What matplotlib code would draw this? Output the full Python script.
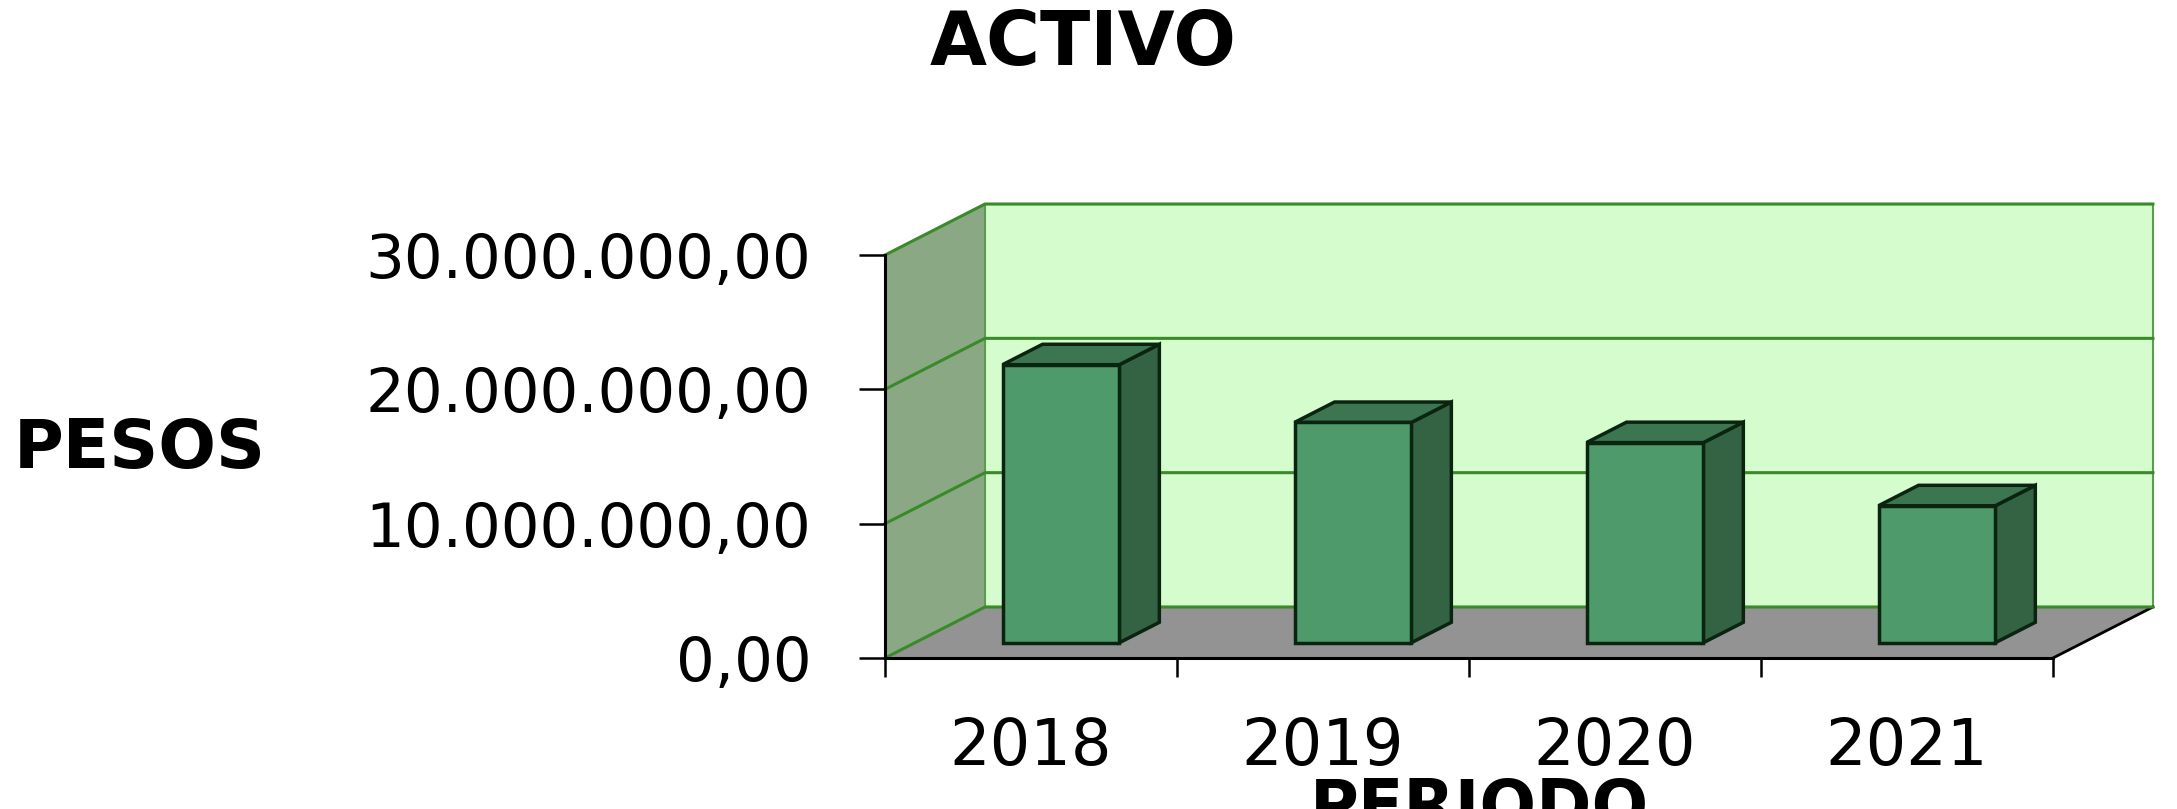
import matplotlib.pyplot as plt
from matplotlib.patches import Polygon
from matplotlib.ticker import FuncFormatter, FixedLocator

plt.rcParams['font.family'] = ['DejaVu Sans']

periodos = ['2018', '2019', '2020', '2021']
activo = [20.7e6, 16.4e6, 14.9e6, 10.2e6]
y_ticks = [0, 10e6, 20e6, 30e6]
y_max = 30e6

# depth of the fake 3d box, in data units
DX = 0.3425
DY = 3.8e6
front, back = 0.30, 0.70

wall_col = '#d4fccc'
side_wall_col = '#8ba885'
floor_col = '#939393'
grid_col = '#3a8a2a'
bar_front = '#4e9a6b'
bar_side = '#336343'
bar_top = '#3c7650'
edge = '#0b2410'


def fmt_pesos(v, pos):
    s = f"{v:,.2f}"
    return s.replace(',', 'X').replace('.', ',').replace('X', '.')


fig = plt.figure(figsize=(21.77, 8.09), dpi=100)
ax = fig.add_axes([0.4065, 0.1866, 0.5365, 0.4981])
ax.set_facecolor('none')
n = len(periodos)
ax.set_xlim(0, n)
ax.set_ylim(0, y_max)

# walls and floor
floor = Polygon([(0, 0), (n, 0), (n + DX, DY), (DX, DY)], closed=True,
                facecolor=floor_col, edgecolor='none', clip_on=False, zorder=0.5)
left_wall = Polygon([(0, 0), (DX, DY), (DX, y_max + DY), (0, y_max)], closed=True,
                    facecolor=side_wall_col, edgecolor='none', clip_on=False, zorder=0.5)
back_wall = Polygon([(DX, DY), (n + DX, DY), (n + DX, y_max + DY), (DX, y_max + DY)],
                    closed=True, facecolor=wall_col, edgecolor='#5c9c50', linewidth=1.5,
                    clip_on=False, zorder=0.5)
for p in (floor, left_wall, back_wall):
    ax.add_patch(p)

# floor edge (right) and grid lines on the walls
ax.plot([n, n + DX], [0, DY], color='black', lw=2, clip_on=False, zorder=0.8)
for v in y_ticks:
    ax.plot([0, DX, n + DX], [v, v + DY, v + DY], color=grid_col, lw=2.2,
            clip_on=False, zorder=0.8)

# bars
d = (back - front)
for i, v in enumerate(activo):
    x0 = i + 0.3 + front * DX
    x1 = i + 0.7 + front * DX
    y0 = front * DY
    y1 = v + front * DY
    fa = Polygon([(x0, y0), (x1, y0), (x1, y1), (x0, y1)], closed=True,
                 facecolor=bar_front, edgecolor=edge, lw=2.5, clip_on=False, zorder=2)
    sd = Polygon([(x1, y0), (x1 + d * DX, y0 + d * DY), (x1 + d * DX, y1 + d * DY), (x1, y1)],
                 closed=True, facecolor=bar_side, edgecolor=edge, lw=2.5,
                 clip_on=False, zorder=2)
    tp = Polygon([(x0, y1), (x1, y1), (x1 + d * DX, y1 + d * DY), (x0 + d * DX, y1 + d * DY)],
                 closed=True, facecolor=bar_top, edgecolor=edge, lw=2.5,
                 clip_on=False, zorder=2)
    for p in (sd, tp, fa):
        ax.add_patch(p)

# axes
for s in ('top', 'right'):
    ax.spines[s].set_visible(False)
for s in ('left', 'bottom'):
    ax.spines[s].set_linewidth(2.2)
    ax.spines[s].set_color('black')
    ax.spines[s].set_zorder(3)

ax.set_yticks(y_ticks)
ax.yaxis.set_major_formatter(FuncFormatter(fmt_pesos))
ax.tick_params(axis='y', direction='out', length=19, width=1.8, pad=34, labelsize=44)

ax.xaxis.set_major_locator(FixedLocator(range(n + 1)))
ax.xaxis.set_major_formatter(FuncFormatter(lambda v, p: ''))
ax.set_xticks([i + 0.5 for i in range(n)], periodos, minor=True)
ax.tick_params(axis='x', which='major', direction='out', length=14, width=1.8)
ax.tick_params(axis='x', which='minor', length=0, pad=42, labelsize=46)

ax.set_ylabel('PESOS', rotation=0, ha='left', va='center', fontsize=49, fontweight='bold')
ax.yaxis.set_label_coords(-0.746, 0.519)

fig.text(1083 / 2177, (809 - 65) / 809, 'ACTIVO', ha='center', va='baseline',
         fontsize=53, fontweight='bold')
fig.text(1480 / 2177, (809 - 828) / 809, 'PERIODO', ha='center', va='baseline',
         fontsize=48, fontweight='bold')

fig.savefig('out.png', dpi=100)
